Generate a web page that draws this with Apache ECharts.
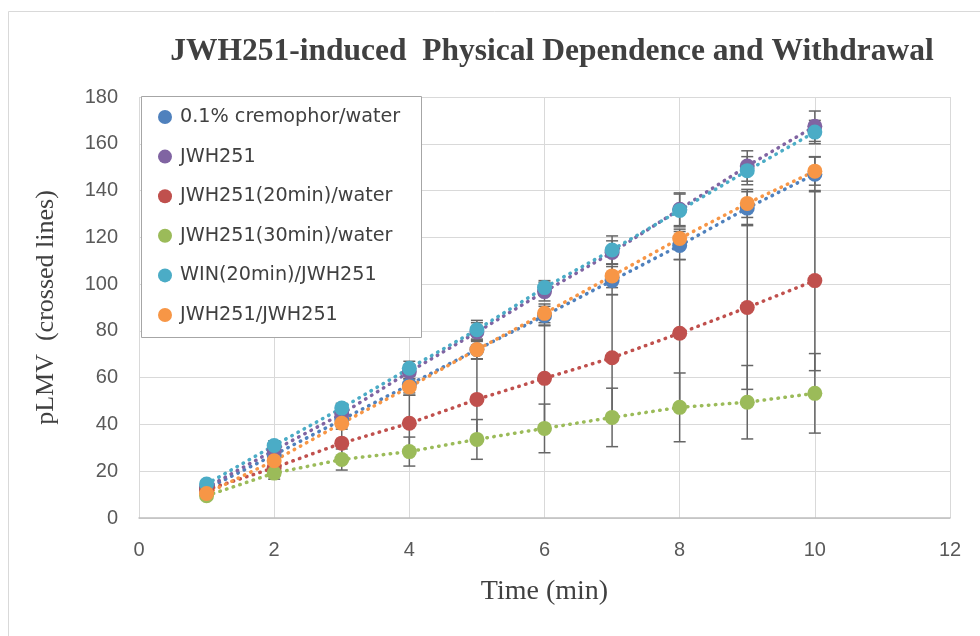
<!DOCTYPE html>
<html>
<head>
<meta charset="utf-8">
<script src="https://cdn.jsdelivr.net/npm/echarts@6/dist/echarts.min.js"></script>
<style>html,body{margin:0;padding:0;background:#fff}#c{width:980px;height:636px}</style>
</head>
<body>
<div id="c"></div>
<script>
var times = [1, 2, 3, 4, 5, 6, 7, 8, 9, 10];
var seriesNames = ['0.1% cremophor/water', 'JWH251', 'JWH251(20min)/water', 'JWH251(30min)/water', 'WIN(20min)/JWH251', 'JWH251/JWH251'];
var seriesColors = ['#4F81BD', '#8064A2', '#C0504D', '#9BBB59', '#4BACC6', '#F79646'];

var cremophorWater = [12.5, 27, 42, 57, 72, 86.5, 101.5, 116.5, 132.5, 147];
var jwh251 = [13, 29, 44.5, 62.5, 79.5, 96.8, 113.5, 132, 150.5, 167.5];
var jwh20Water = [12, 21.5, 32, 40.5, 50.7, 59.7, 68.5, 79, 90, 101.5];
var jwh30Water = [9.5, 19.2, 25, 28.4, 33.6, 38.3, 43, 47.3, 49.5, 53.3];
var win20Jwh = [14.5, 31, 47, 64, 80.5, 98.5, 114.6, 131.5, 148.5, 165];
var jwhJwh = [10.5, 24.5, 40.5, 56, 72, 87.5, 103.5, 119.5, 134.5, 148.3];

var errCremophorWater = [1.5, 2, 2.5, 3.5, 4, 4, 6, 6, 7, 7.5];
var errJwh251 = [1.5, 2, 2.5, 3, 4, 4, 5, 7, 6.5, 6.5];
var errJwh20Water = [1, 2.5, 7, 12, 17.3, 22.5, 27, 31.5, 35, 38.5];
var errJwh30Water = [1, 2.6, 4.5, 6.2, 8.5, 10.4, 12.5, 14.7, 15.7, 17];
var errWin20Jwh = [1.5, 2, 2, 3, 4, 3, 6, 7, 6, 5];
var errJwhJwh = [1, 1.5, 2.5, 3.5, 4, 4, 5, 4, 6, 6];

var xTicks = [0, 2, 4, 6, 8, 10, 12];
var yTicks = [0, 20, 40, 60, 80, 100, 120, 140, 160, 180];

var allValues = [cremophorWater, jwh251, jwh20Water, jwh30Water, win20Jwh, jwhJwh];
var allErrors = [errCremophorWater, errJwh251, errJwh20Water, errJwh30Water, errWin20Jwh, errJwhJwh];

var series = [];
allValues.forEach(function (vals, si) {
  var errData = times.map(function (t, i) { return [t, vals[i] - allErrors[si][i], vals[i] + allErrors[si][i]]; });
  series.push({
    type: 'custom',
    name: seriesNames[si] + ' err',
    z: 1,
    silent: true,
    data: errData,
    encode: { x: 0, y: [1, 2] },
    renderItem: function (params, api) {
      var x = api.value(0);
      var lo = api.coord([x, api.value(1)]);
      var hi = api.coord([x, api.value(2)]);
      var hw = 6;
      var st = { stroke: '#666666', lineWidth: 1.5 };
      return {
        type: 'group',
        children: [
          { type: 'line', shape: { x1: lo[0], y1: lo[1], x2: hi[0], y2: hi[1] }, style: st },
          { type: 'line', shape: { x1: lo[0] - hw, y1: lo[1], x2: lo[0] + hw, y2: lo[1] }, style: st },
          { type: 'line', shape: { x1: hi[0] - hw, y1: hi[1], x2: hi[0] + hw, y2: hi[1] }, style: st }
        ]
      };
    }
  });
});
allValues.forEach(function (vals, si) {
  series.push({
    type: 'line',
    name: seriesNames[si],
    z: 2,
    data: times.map(function (t, i) { return [t, vals[i]]; }),
    symbol: 'circle',
    symbolSize: 15,
    showSymbol: true,
    itemStyle: { color: seriesColors[si], opacity: 1 },
    lineStyle: { color: seriesColors[si], width: 3.5, type: [0.5, 6.5], cap: 'round' },
    emphasis: { disabled: true },
    animation: false
  });
});

var chart = echarts.init(document.getElementById('c'), null, { renderer: 'canvas' });
chart.setOption({
  animation: false,
  backgroundColor: '#ffffff',
  title: {
    text: 'JWH251-induced  Physical Dependence and Withdrawal',
    left: 547, top: 31, textAlign: 'center',
    textStyle: { fontFamily: 'Liberation Serif', fontWeight: 'bold', fontSize: 31.5, color: '#404040' }
  },
  graphic: [
    { type: 'rect', shape: { x: 8.5, y: 11.5, width: 1000, height: 700 }, style: { fill: 'none', stroke: '#d9d9d9', lineWidth: 1 }, z: -10 },
    { type: 'rect', shape: { x: 141.5, y: 96.5, width: 280, height: 241 }, style: { fill: '#ffffff', stroke: '#a6a6a6', lineWidth: 1 }, z: 50 }
  ],
  legend: {
    orient: 'vertical',
    left: 141, top: 96,
    padding: [11, 16, 11, 17],
    itemGap: 19.6,
    itemWidth: 14, itemHeight: 14,
    icon: 'circle',
    z: 60,
    selectedMode: false,
    data: seriesNames,
    textStyle: { fontFamily: 'DejaVu Sans', fontSize: 19.2, color: '#404040', lineHeight: 20, padding: [0, 0, 0, 3] }
  },
  grid: { left: 139, right: 30, top: 97, bottom: 118, containLabel: false },
  xAxis: {
    type: 'value', min: 0, max: 12, interval: 2,
    name: 'Time (min)', nameLocation: 'middle', nameGap: 60,
    nameTextStyle: { fontFamily: 'Liberation Serif', fontSize: 28, color: '#404040' },
    axisLine: { show: true, lineStyle: { color: '#bfbfbf', width: 1.5 } },
    axisTick: { show: false },
    splitLine: { show: true, lineStyle: { color: '#d9d9d9', width: 1 } },
    axisLabel: { margin: 22, fontFamily: 'Liberation Sans', fontSize: 20, color: '#595959',
      formatter: function (v) { return xTicks.indexOf(v) >= 0 ? String(v) : ''; } }
  },
  yAxis: {
    type: 'value', min: 0, max: 180, interval: 20,
    name: 'pLMV  (crossed lines)', nameLocation: 'middle', nameGap: 80,
    nameTextStyle: { fontFamily: 'Liberation Serif', fontSize: 26, color: '#404040' },
    axisLine: { show: false },
    axisTick: { show: false },
    splitLine: { show: true, lineStyle: { color: '#d9d9d9', width: 1 } },
    axisLabel: { margin: 21, fontFamily: 'Liberation Sans', fontSize: 20, color: '#595959',
      formatter: function (v) { return yTicks.indexOf(v) >= 0 ? String(v) : ''; } }
  },
  series: series
});
</script>
</body>
</html>
